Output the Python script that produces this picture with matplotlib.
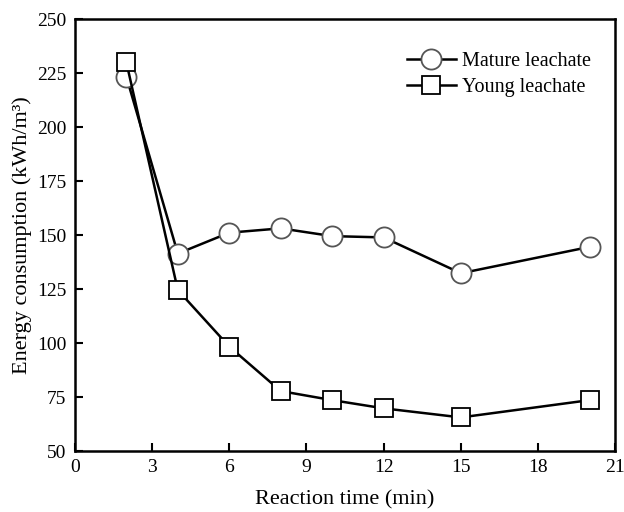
import matplotlib
matplotlib.use("Agg")
import matplotlib.pyplot as plt

plt.rcParams["font.family"] = ["Liberation Serif", "DejaVu Serif"]

# reaction time (min) and energy consumption (kWh/m3)
time_min = [2, 4, 6, 8, 10, 12, 15, 20]
mature = [223.5, 141.5, 151.2, 153.2, 149.6, 149.0, 132.4, 144.6]
young = [230.2, 124.6, 98.4, 77.8, 73.6, 69.8, 65.6, 73.6]

x_ticks = [0, 3, 6, 9, 12, 15, 18, 21]
y_ticks = [50, 75, 100, 125, 150, 175, 200, 225, 250]

fig = plt.figure(figsize=(6.24, 5.12), dpi=100)
ax = fig.add_axes([0.120, 0.119, 0.866, 0.843])

ax.plot(
    time_min,
    mature,
    color="black",
    linewidth=1.8,
    marker="o",
    markersize=14.5,
    markerfacecolor="white",
    markeredgecolor="#555555",
    markeredgewidth=1.3,
    label="Mature leachate"
)

ax.plot(
    time_min,
    young,
    color="black",
    linewidth=1.8,
    marker="s",
    markersize=12.5,
    markerfacecolor="white",
    markeredgecolor="black",
    markeredgewidth=1.3,
    label="Young leachate"
)

ax.set_xlim(0, 21)
ax.set_ylim(50, 250)
ax.set_xticks(x_ticks)
ax.set_yticks(y_ticks)

ax.tick_params(direction="in", length=6, width=1.5, labelsize=14, pad=6)

for spine in ax.spines.values():
    spine.set_linewidth(1.8)

ax.set_xlabel("Reaction time (min)", fontsize=16, labelpad=10)
ax.set_ylabel("Energy consumption (kWh/m³)", fontsize=16, labelpad=4)

ax.legend(
    loc="upper left",
    bbox_to_anchor=(0.615, 0.925),
    frameon=False,
    fontsize=14.5,
    handlelength=2.4,
    handletextpad=0.3,
    labelspacing=0.35,
    borderpad=0,
    borderaxespad=0
)

fig.savefig("out.png", dpi=100)
